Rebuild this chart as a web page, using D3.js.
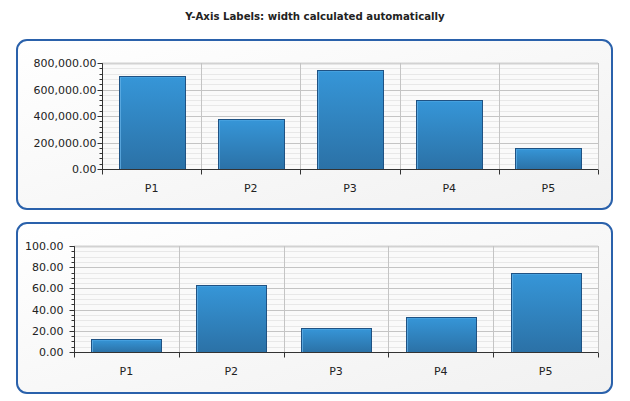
<!DOCTYPE html>
<html>
<head>
<meta charset="utf-8">
<script src="https://cdn.jsdelivr.net/npm/d3@7"></script>
<style>
  html, body { margin: 0; padding: 0; background: #ffffff; }
  svg { display: block; }
  text { font-family: Tahoma, "DejaVu Sans", Verdana, sans-serif; }
</style>
</head>
<body>
<svg id="chart" width="630" height="401"></svg>
<script>
const chartTitle = "Y-Axis Labels: width calculated automatically";
const categories = ["P1", "P2", "P3", "P4", "P5"];
const topValues = [700000, 375000, 750000, 520000, 160000];
const topTicks = [0, 200000, 400000, 600000, 800000];
const bottomValues = [12, 63, 23, 33, 75];
const bottomTicks = [0, 20, 40, 60, 80, 100];

const svg = d3.select("#chart");
const defs = svg.append("defs");

const pg = defs.append("linearGradient").attr("id", "panelGrad")
  .attr("x1", "0").attr("y1", "0").attr("x2", "1").attr("y2", "1");
pg.append("stop").attr("offset", "0%").attr("stop-color", "#ffffff");
pg.append("stop").attr("offset", "100%").attr("stop-color", "#f1f1f1");

const bg = defs.append("linearGradient").attr("id", "barGrad")
  .attr("x1", "0").attr("y1", "0").attr("x2", "0").attr("y2", "1");
bg.append("stop").attr("offset", "0%").attr("stop-color", "#3696d8");
bg.append("stop").attr("offset", "100%").attr("stop-color", "#2b71a6");

svg.append("text")
  .attr("x", 315).attr("y", 20)
  .attr("text-anchor", "middle")
  .attr("font-size", 10.2).attr("font-weight", "bold")
  .attr("font-family", "'DejaVu Sans Condensed', 'DejaVu Sans', sans-serif")
  .attr("fill", "#222")
  .text(chartTitle);

function drawPanel(cfg) {
  const g = svg.append("g");
  g.append("rect")
    .attr("x", cfg.px).attr("y", cfg.py)
    .attr("width", cfg.pw).attr("height", cfg.ph)
    .attr("rx", 10).attr("ry", 10)
    .attr("fill", "url(#panelGrad)")
    .attr("stroke", "#2a61ab").attr("stroke-width", 2);

  const x = d3.scaleBand().domain(categories).range([cfg.left, cfg.right]).paddingInner(0).paddingOuter(0);
  const y = d3.scaleLinear().domain([0, cfg.max]).range([cfg.bottom, cfg.top]);

  // plot background
  g.append("rect").attr("x", cfg.left).attr("y", cfg.top)
    .attr("width", cfg.right - cfg.left).attr("height", cfg.bottom - cfg.top)
    .attr("fill", "#fafafa");

  // minor gridlines
  const minorTicks = d3.range(0, cfg.max + 1e-9, cfg.max / 20);
  g.append("g").selectAll("line").data(minorTicks).join("line")
    .attr("x1", cfg.left).attr("x2", cfg.right)
    .attr("y1", d => Math.round(y(d)) + 0.5).attr("y2", d => Math.round(y(d)) + 0.5)
    .attr("stroke", "#e8e8e8").attr("stroke-width", 1);

  // major gridlines
  g.append("g").selectAll("line").data(cfg.ticks).join("line")
    .attr("x1", cfg.left).attr("x2", cfg.right)
    .attr("y1", d => Math.round(y(d)) + 0.5).attr("y2", d => Math.round(y(d)) + 0.5)
    .attr("stroke", d => d === cfg.max ? "#d2d2d2" : "#c4c4c4")
    .attr("stroke-width", d => d === cfg.max ? 2 : 1);

  // vertical gridlines
  const bounds = categories.map(c => x(c)).concat([cfg.right]);
  g.append("g").selectAll("line").data(bounds.slice(1)).join("line")
    .attr("x1", d => Math.round(d) + 0.5).attr("x2", d => Math.round(d) + 0.5)
    .attr("y1", cfg.top).attr("y2", cfg.bottom)
    .attr("stroke", "#c4c4c4");

  // bars
  const bw = x.bandwidth() * 2 / 3;
  const bars = g.append("g").selectAll("g").data(cfg.values).join("g");
  bars.append("rect")
    .attr("x", (d, i) => Math.round(x(categories[i]) + x.bandwidth() / 6) + 0.5)
    .attr("y", d => Math.round(y(d)) + 0.5)
    .attr("width", Math.round(bw))
    .attr("height", d => Math.round(y(0)) - Math.round(y(d)))
    .attr("fill", "url(#barGrad)")
    .attr("stroke", "#1f5283").attr("stroke-width", 1);
  // highlight left edge and top
  bars.append("line")
    .attr("x1", (d, i) => Math.round(x(categories[i]) + x.bandwidth() / 6) + 1.5)
    .attr("x2", (d, i) => Math.round(x(categories[i]) + x.bandwidth() / 6) + 1.5)
    .attr("y1", d => Math.round(y(d)) + 1)
    .attr("y2", d => Math.round(y(0)))
    .attr("stroke", "#62aee3").attr("stroke-opacity", 0.8);
  bars.append("line")
    .attr("x1", (d, i) => Math.round(x(categories[i]) + x.bandwidth() / 6) + 1)
    .attr("x2", (d, i) => Math.round(x(categories[i]) + x.bandwidth() / 6) + Math.round(bw))
    .attr("y1", d => Math.round(y(d)) + 1.5)
    .attr("y2", d => Math.round(y(d)) + 1.5)
    .attr("stroke", "#4aa3e0").attr("stroke-opacity", 0.8);

  // y axis with minor ticks
  const yAxisG = g.append("g").attr("transform", `translate(${Math.round(cfg.left) + 0.5},0.5)`);
  yAxisG.append("line").attr("x1", 0).attr("x2", 0)
    .attr("y1", Math.round(y(cfg.max))).attr("y2", Math.round(y(0)))
    .attr("stroke", "#333");
  yAxisG.selectAll("line.minor").data(minorTicks).join("line").attr("class", "minor")
    .attr("x1", -3).attr("x2", 0)
    .attr("y1", d => Math.round(y(d))).attr("y2", d => Math.round(y(d)))
    .attr("stroke", "#333");
  yAxisG.selectAll("line.major").data(cfg.ticks).join("line").attr("class", "major")
    .attr("x1", -5).attr("x2", 0)
    .attr("y1", d => Math.round(y(d))).attr("y2", d => Math.round(y(d)))
    .attr("stroke", "#333");
  const fmt = d3.format(",.2f");
  yAxisG.selectAll("text").data(cfg.ticks).join("text")
    .attr("x", -cfg.labelGap).attr("y", d => Math.round(y(d)))
    .attr("dy", "0.35em")
    .attr("text-anchor", "end")
    .attr("font-size", 11).attr("fill", "#222")
    .text(d => fmt(d));

  // x axis
  const xAxisG = g.append("g").attr("transform", `translate(0,${Math.round(cfg.bottom) + 0.5})`);
  xAxisG.append("line").attr("x1", cfg.left).attr("x2", cfg.right).attr("stroke", "#333");
  xAxisG.selectAll("line.tick").data(bounds).join("line").attr("class", "tick")
    .attr("x1", d => Math.round(d) + 0.5).attr("x2", d => Math.round(d) + 0.5)
    .attr("y1", 0).attr("y2", 5).attr("stroke", "#333");
  xAxisG.selectAll("text").data(categories).join("text")
    .attr("x", d => x(d) + x.bandwidth() / 2)
    .attr("y", 19)
    .attr("dy", "0.35em")
    .attr("text-anchor", "middle")
    .attr("font-size", 11).attr("fill", "#222")
    .text(d => d);
}

drawPanel({px: 17, py: 40, pw: 595, ph: 169, left: 102, right: 598, top: 63, bottom: 169,
  max: 800000, ticks: topTicks, values: topValues, labelGap: 6});
drawPanel({px: 17, py: 223, pw: 595, ph: 170, left: 74, right: 598, top: 246, bottom: 352,
  max: 100, ticks: bottomTicks, values: bottomValues, labelGap: 11});
</script>
</body>
</html>
